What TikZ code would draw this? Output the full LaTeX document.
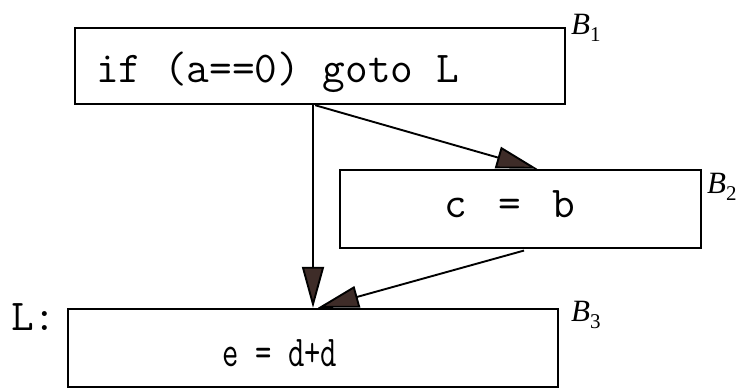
\documentclass[tikz,border=0pt]{standalone}
\usepackage{fontspec}
\usepackage{graphicx}
\setmainfont{Liberation Serif}
\usetikzlibrary{arrows.meta,calc}
\definecolor{tipbrown}{RGB}{62,44,40}
\begin{document}
\begin{tikzpicture}[x=1pt,y=-1pt,
  block/.style={draw,line width=2.4pt,inner sep=0pt},
  codetext/.style={inner sep=0pt,font=\ttfamily\fontsize{44}{44}\selectfont},
  blabel/.style={inner sep=0pt,anchor=base west,font=\fontsize{31}{31}\selectfont},
  flow/.style={line width=1.9pt,-{Triangle[length=41pt,width=22pt,fill=tipbrown]}}]
\useasboundingbox (0,0) rectangle (743,389);
% blocks
\node[block,minimum width=490pt,minimum height=76pt] (b1) at (320,66) {};
\node[block,minimum width=361pt,minimum height=78pt] (b2) at (520.5,209) {};
\node[block,minimum width=490pt,minimum height=78pt] (b3) at (313,348) {};
% code texts
\node[codetext,anchor=base west] (t1) at (96,82) {if (a==0) goto L};
\node[codetext,anchor=base] (t2) at (510,217) {c\hspace{9pt} = \hspace{9pt}b};
\node[codetext,anchor=base] (t3) at (280,366) {\scalebox{0.72}[1]{e = d+d}};
\node[codetext,anchor=base west] (lab) at (11,330) {L:};
% block labels
\node[blabel] (n1) at (571,34) {\textit{B}\raisebox{-7pt}{\fontsize{21}{21}\selectfont 1}};
\node[blabel] (n2) at (707,193) {\textit{B}\raisebox{-7pt}{\fontsize{21}{21}\selectfont 2}};
\node[blabel] (n3) at (571,321) {\textit{B}\raisebox{-7pt}{\fontsize{21}{21}\selectfont 3}};
% connectors
\draw[flow] (b1.south -| b3.north) -- (b3.north);
\draw[flow] ($(b1.south west)!0.49!(b1.south east)$) -- ($(b2.north west)!0.546!(b2.north east)$);
\draw[flow,shorten <=5pt] ($(b2.south west)!0.523!(b2.south east)$) -- ($(b3.north west)!0.51!(b3.north east)$);
\end{tikzpicture}
\end{document}
